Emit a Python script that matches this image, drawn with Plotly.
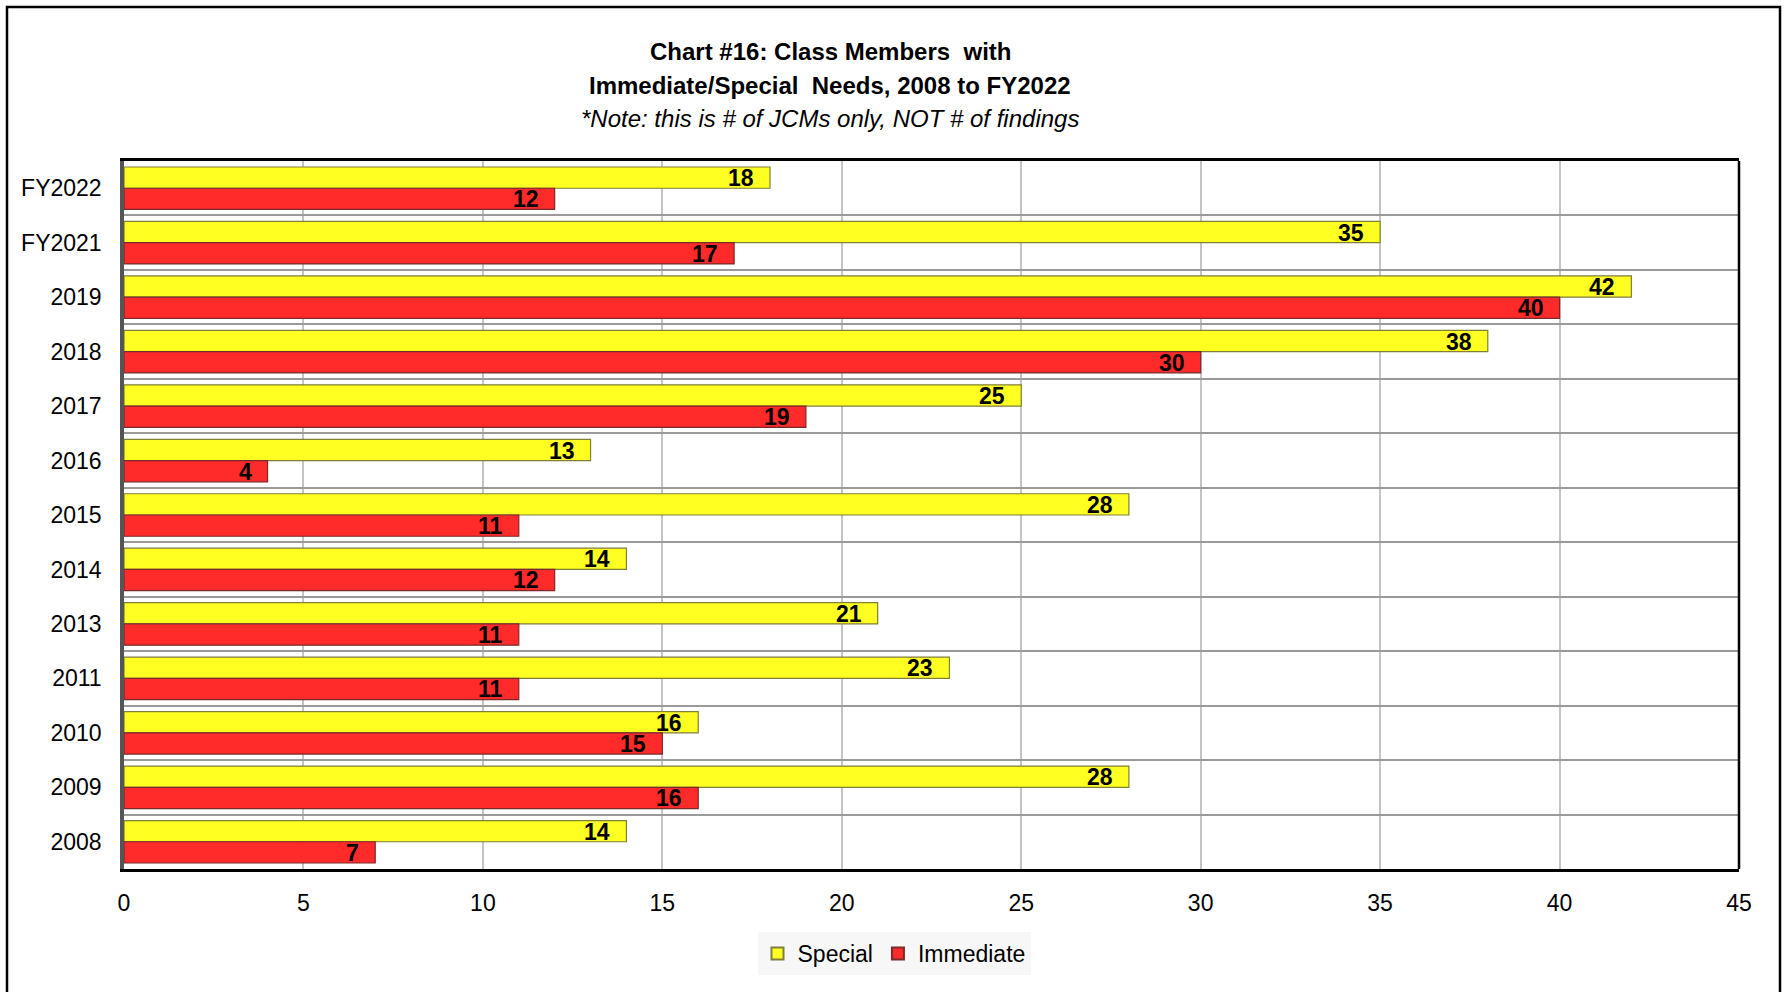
import plotly.graph_objects as go

categories = ["FY2022", "FY2021", "2019", "2018", "2017", "2016", "2015",
              "2014", "2013", "2011", "2010", "2009", "2008"]
special = [18, 35, 42, 38, 25, 13, 28, 14, 21, 23, 16, 28, 14]
immediate = [12, 17, 40, 30, 19, 4, 11, 12, 11, 11, 15, 16, 7]
x_ticks = [0, 5, 10, 15, 20, 25, 30, 35, 40, 45]

FONT = "Liberation Sans, Arial, sans-serif"
W, H = 1789, 992
L, R, T, B = 124, 1739, 161, 869
PW, PH = R - L, B - T

def px_x(p):
    return (p - L) / PW

def px_y(p):
    return (B - p) / PH

fig = go.Figure()
fig.add_trace(go.Bar(
    name="Special", y=categories, x=special, orientation="h",
    marker=dict(color="#FFFF22", line=dict(color="#7f7f3a", width=1.2)),
))
fig.add_trace(go.Bar(
    name="Immediate", y=categories, x=immediate, orientation="h",
    marker=dict(color="#FF2A2A", line=dict(color="#7a2a2a", width=1.2)),
))

annotations = []
for idx, (s, i) in enumerate(zip(special, immediate)):
    annotations.append(dict(x=s, y=idx, xref="x", yref="y", text=f"<b>{s}</b>", showarrow=False,
                            xanchor="right", yanchor="middle", xshift=-14, yshift=10,
                            font=dict(family=FONT, size=23, color="black")))
    annotations.append(dict(x=i, y=idx, xref="x", yref="y", text=f"<b>{i}</b>", showarrow=False,
                            xanchor="right", yanchor="middle", xshift=-14, yshift=-11,
                            font=dict(family=FONT, size=23, color="black")))

cx = px_x(830)
annotations += [
    dict(xref="paper", yref="paper", x=cx, y=px_y(52), text="<b>Chart #16: Class Members  with</b>",
         showarrow=False, xanchor="center", yanchor="middle",
         font=dict(family=FONT, size=24, color="black")),
    dict(xref="paper", yref="paper", x=cx, y=px_y(85), text="<b>Immediate/Special  Needs, 2008 to FY2022</b>",
         showarrow=False, xanchor="center", yanchor="middle",
         font=dict(family=FONT, size=24, color="black")),
    dict(xref="paper", yref="paper", x=cx, y=px_y(118), text="<i>*Note: this is # of JCMs only, NOT # of findings</i>",
         showarrow=False, xanchor="center", yanchor="middle",
         font=dict(family=FONT, size=24, color="black")),
]

shapes = [
    dict(type="rect", xref="paper", yref="paper",
         x0=px_x(7), x1=px_x(1780), y0=px_y(1010), y1=px_y(7),
         line=dict(color="black", width=2.5), fillcolor="rgba(0,0,0,0)", layer="above"),
    dict(type="line", xref="paper", yref="paper", x0=1, x1=1, y0=0, y1=1,
         line=dict(color="black", width=2.5), layer="above"),
]

fig.update_layout(
    width=W, height=H,
    margin=dict(l=L, r=W - R, t=T, b=H - B, autoexpand=False),
    paper_bgcolor="white", plot_bgcolor="white",
    barmode="group", bargap=0.22, bargroupgap=0,
    font=dict(family=FONT, size=23, color="black"),
    showlegend=True,
    legend=dict(orientation="h", x=px_x(894), xanchor="center", y=px_y(932), yanchor="top",
                bgcolor="#f7f7f7", font=dict(family=FONT, size=23, color="black"),
                traceorder="normal", itemsizing="constant"),
    annotations=annotations,
    shapes=shapes,
)
fig.update_xaxes(range=[0, 45], tickvals=x_ticks, showgrid=True, gridcolor="#c4c4c4", gridwidth=1.5,
                 showline=True, linecolor="black", linewidth=2.5, mirror=True, zeroline=False,
                 ticks="", tickfont=dict(family=FONT, size=23), ticklabelstandoff=12)
fig.update_yaxes(type="category", autorange="reversed", tickson="boundaries",
                 showgrid=True, gridcolor="#9a9a9a", gridwidth=1.5,
                 showline=True, linecolor="#555555", linewidth=3.5, mirror=False,
                 ticks="", tickfont=dict(family=FONT, size=23), ticklabelstandoff=14)

fig.write_html("out.html", config={"displayModeBar": False},
               post_script="document.body.style.margin='0';document.body.style.overflow='hidden';")
